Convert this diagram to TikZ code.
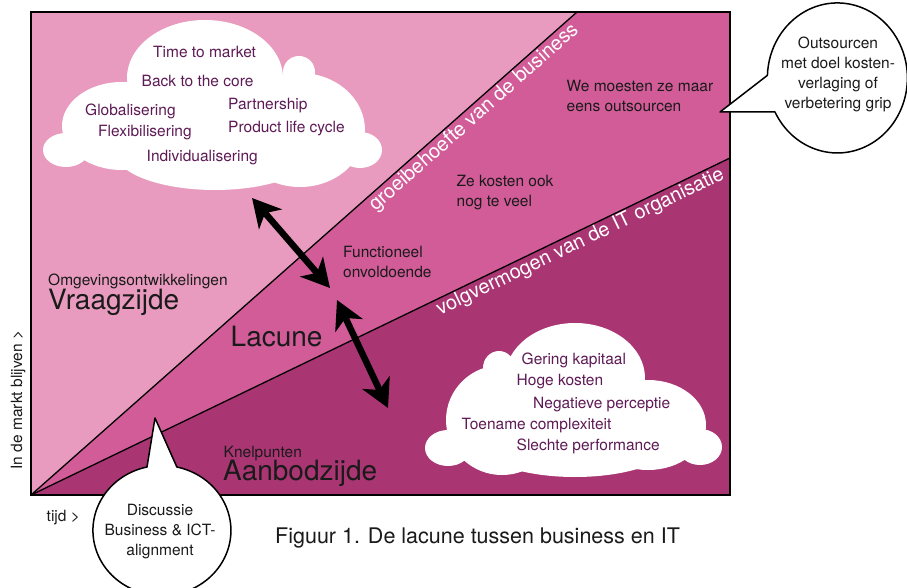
\documentclass[tikz,border=0pt]{standalone}
\usepackage{fontspec}
\setmainfont{TeX Gyre Heros}
\usetikzlibrary{arrows.meta}
\definecolor{lightpk}{HTML}{E89BBE}
\definecolor{midpk}{HTML}{D15C98}
\definecolor{darkpk}{HTML}{AA3573}
\definecolor{cloudtxt}{HTML}{5E1A55}
\definecolor{txt}{HTML}{1A1A1A}
\begin{document}
\begin{tikzpicture}[x=1pt,y=-1pt,
  ct/.style={inner sep=0pt,anchor=base west,text=cloudtxt,font=\fontsize{15.5}{18}\selectfont},
  pt/.style={inner sep=0pt,anchor=base west,text=txt,font=\fontsize{15.5}{18}\selectfont},
  bigt/.style={inner sep=0pt,anchor=base west,text=txt,font=\fontsize{28}{32}\selectfont},
  wl/.style={inner sep=0pt,anchor=north,text=white,font=\fontsize{20}{24}\selectfont},
  bt/.style={inner sep=0pt,anchor=base,text=txt,font=\fontsize{15.5}{18}\selectfont},
  bub/.style={fill=white,draw=black,line width=1.5pt,line join=round},
  cloudfill/.style={fill=white},
  dbl/.style={line width=6.5pt,{Stealth[length=28pt,width=30pt,inset=8pt]}-{Stealth[length=28pt,width=30pt,inset=8pt]}}]
\useasboundingbox (0,0) rectangle (907,588);
\fill[white] (0,0) rectangle (907,588);
% regions
\coordinate (O) at (31,495);
\coordinate (TL) at (31,12);
\coordinate (T1) at (577,12);
\coordinate (TR) at (730,12);
\coordinate (R2) at (730,158);
\coordinate (BR) at (730,495);
\fill[lightpk] (O) -- (TL) -- (T1) -- cycle;
\fill[midpk] (O) -- (T1) -- (TR) -- (R2) -- cycle;
\fill[darkpk] (O) -- (R2) -- (BR) -- cycle;
\draw[line width=1.3pt] (O) -- (T1);
\draw[line width=1.3pt] (O) -- (R2);
\draw[line width=1.8pt] (TL) rectangle (BR);
% cloud 1
\fill[cloudfill] (205,78) ellipse [x radius=78pt, y radius=58pt];
\fill[cloudfill] (299,72) ellipse [x radius=16pt, y radius=16pt];
\fill[cloudfill] (300,130) ellipse [x radius=65pt, y radius=57pt];
\fill[cloudfill] (360,150) ellipse [x radius=22pt, y radius=18pt];
\fill[cloudfill] (122,126) ellipse [x radius=60pt, y radius=44pt];
\fill[cloudfill] (66,150) ellipse [x radius=23pt, y radius=17pt];
\fill[cloudfill] (215,152) ellipse [x radius=100pt, y radius=38pt];
% cloud 2
\fill[cloudfill] (575,378) ellipse [x radius=70pt, y radius=55pt];
\fill[cloudfill] (499,368) ellipse [x radius=16pt, y radius=17pt];
\fill[cloudfill] (502,420) ellipse [x radius=56pt, y radius=55pt];
\fill[cloudfill] (448,448) ellipse [x radius=23pt, y radius=18pt];
\fill[cloudfill] (648,425) ellipse [x radius=58pt, y radius=45pt];
\fill[cloudfill] (700,447) ellipse [x radius=22pt, y radius=18pt];
\fill[cloudfill] (575,440) ellipse [x radius=100pt, y radius=37pt];
% cloud 1 text
\node[ct] (c1a) at (153,58) {Time to market};
\node[ct] (c1b) at (141.5,86.5) {Back to the core};
\node[ct] (c1c) at (85,116) {Globalisering};
\node[ct] (c1d) at (228,110) {Partnership};
\node[ct] (c1e) at (98,137) {Flexibilisering};
\node[ct] (c1f) at (228,132.5) {Product life cycle};
\node[ct] (c1g) at (146.5,161.5) {Individualisering};
% cloud 2 text
\node[ct] (c2a) at (521.5,364) {Gering kapitaal};
\node[ct] (c2b) at (516.5,385.5) {Hoge kosten};
\node[ct] (c2c) at (533,408) {Negatieve perceptie};
\node[ct] (c2d) at (461.5,429) {Toename complexiteit};
\node[ct] (c2e) at (516.5,450.5) {Slechte performance};
% other texts
\node[pt] (w1) at (566.5,91.5) {We moesten ze maar};
\node[pt] (w2) at (566.5,111.5) {eens outsourcen};
\node[pt] (z1) at (456.5,186.5) {Ze kosten ook};
\node[pt] (z2) at (456.5,206.5) {nog te veel};
\node[pt] (f1) at (343,257) {Functioneel};
\node[pt] (f2) at (343,277) {onvoldoende};
\node[pt] (om) at (48,285) {Omgevingsontwikkelingen};
\node[bigt] (vr) at (48,309) {Vraagzijde};
\node[bigt] (la) at (230.5,346) {Lacune};
\node[pt] (kn) at (223.5,457) {Knelpunten};
\node[bigt] (aa) at (223,480) {Aanbodzijde};
\node[pt] (tijd) at (46.5,521.5) {tijd >};
\node[pt,rotate=90,anchor=base] (markt) at (22,400) {In de markt blijven >};
\node[inner sep=0pt,anchor=base west,text=txt,font=\fontsize{21.5}{24}\selectfont] (fig) at (275,543) {Figuur 1. De lacune tussen business en IT};
% diagonal labels
\node[wl,rotate=41.5] (g1) at (467.7,110.7) {groeibehoefte van de business};
\node[wl,rotate=25.74] (g2) at (576.3,233.7) {volgvermogen van de IT organisatie};
% arrows
\coordinate (a1s) at (252,198);
\coordinate (a1e) at (330,288);
\coordinate (a2s) at (337,300);
\coordinate (a2e) at (388,408);
\draw[dbl] (a1s) -- (a1e);
\draw[dbl] (a2s) -- (a2e);
% speech bubble top right
\coordinate (tip1) at (720,112);
\draw[bub] (775,112) arc[start angle=207, end angle=538, x radius=70pt, y radius=75pt] -- (tip1) -- cycle;
\node[bt] (o1) at (838,49) {Outsourcen};
\node[bt] (o2) at (838,69) {met doel kosten-};
\node[bt] (o3) at (838,89) {verlaging of};
\node[bt] (o4) at (838,109) {verbetering grip};
% speech bubble bottom
\coordinate (tip2) at (155,418);
\draw[bub] (147,467) arc[start angle=102.5, end angle=437.5, x radius=69pt, y radius=65pt] -- (tip2) -- cycle;
\node[bt] (d1) at (160,515) {Discussie};
\node[bt] (d2) at (160,535) {Business \& ICT-};
\node[bt] (d3) at (160,555) {alignment};
\end{tikzpicture}
\end{document}
